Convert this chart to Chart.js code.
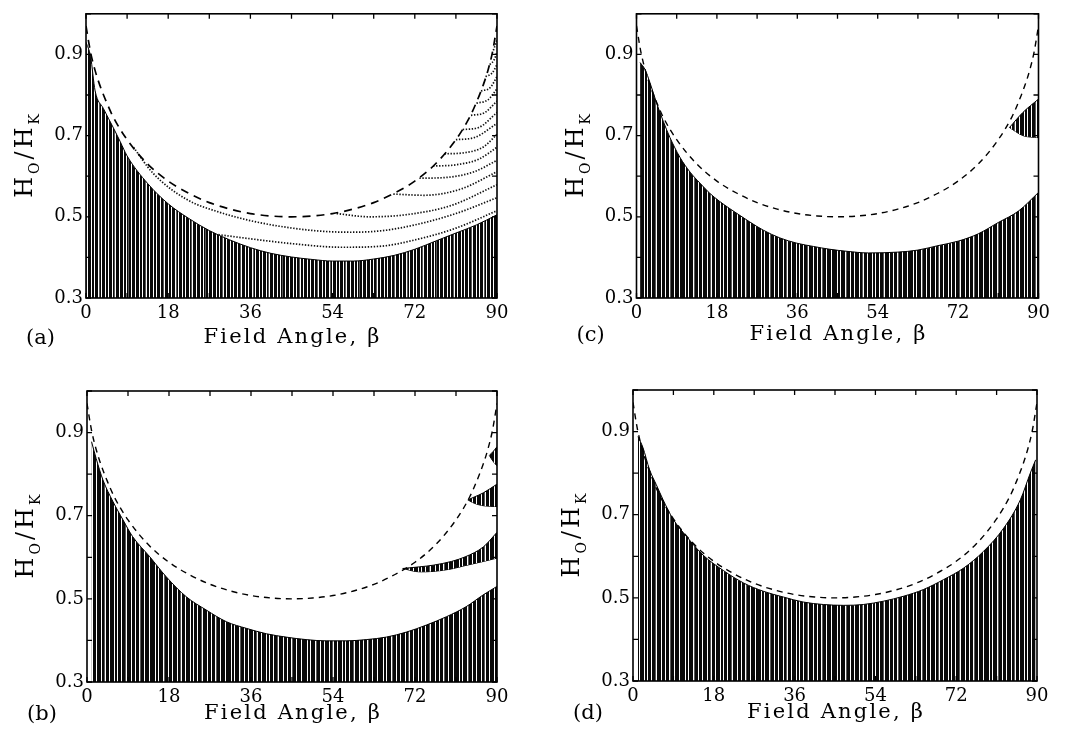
<!DOCTYPE html>
<html lang="en">
<head>
<meta charset="UTF-8">
<title>Switching field vs field angle</title>
<script src="https://cdn.jsdelivr.net/npm/chart.js"></script>
<style>
  body { margin: 0; background: #fff; width: 1069px; height: 743px; position: relative; overflow: hidden; }
  .panel { position: absolute; }
</style>
</head>
<body>
<div class="panel" style="left:0;top:0"><canvas id="panelA" width="530" height="370"></canvas></div>
<div class="panel" style="left:530px;top:0"><canvas id="panelC" width="539" height="370"></canvas></div>
<div class="panel" style="left:0;top:370px"><canvas id="panelB" width="530" height="373"></canvas></div>
<div class="panel" style="left:530px;top:370px"><canvas id="panelD" width="539" height="373"></canvas></div>
<script>
// dashed boundary, same in all four panels
const dashX = [0, 1, 2, 3, 4.5, 6, 9, 13.5, 18, 22.5, 27, 31.5, 36, 40.5, 45, 49.5, 54, 58.5, 63, 67.5, 72, 76.5, 81, 84, 85.5, 87, 88, 89, 90];
const dashY = [0.97, 0.905, 0.86, 0.825, 0.782, 0.745, 0.69, 0.63, 0.588, 0.558, 0.535, 0.519, 0.508, 0.502, 0.5, 0.502, 0.508, 0.519, 0.535, 0.558, 0.588, 0.63, 0.69, 0.745, 0.782, 0.825, 0.86, 0.905, 0.97];

// x / y tick values that carry a label
const xTicks = [0, 18, 36, 54, 72, 90];
const yTicks = [0.3, 0.5, 0.7, 0.9];

// (a) hatched region and dotted branches
const aFillX = [0, 1, 2, 3.8, 6, 7.5, 9, 13.5, 18, 22.5, 27, 31.5, 36, 40.5, 45, 49.5, 54, 58.5, 63, 67.5, 72, 76.5, 81, 85.5, 90];
const aFillY = [0.93, 0.895, 0.81, 0.767, 0.719, 0.685, 0.65, 0.582, 0.532, 0.496, 0.466, 0.443, 0.424, 0.41, 0.401, 0.395, 0.391, 0.391, 0.396, 0.405, 0.42, 0.44, 0.46, 0.48, 0.505];
const aLongX = [10.4, 14.7, 22, 29.3, 36.6, 44, 51, 58, 65, 72, 81, 90];
const aLongY = [0.671, 0.607, 0.543, 0.511, 0.489, 0.474, 0.465, 0.462, 0.466, 0.48, 0.508, 0.547];
const aLowX = [29, 36.6, 45, 56, 65, 72, 81, 90];
const aLowY = [0.456, 0.445, 0.434, 0.425, 0.428, 0.443, 0.472, 0.515];
const aBranchX = [
  [54.9, 62, 70, 80, 90], [67.3, 74, 82, 90], [73, 79, 85, 90], [76, 81, 86, 90],
  [78.5, 83, 87, 90], [81, 85, 90], [82.5, 86, 90], [84.3, 87.2, 90],
  [85.5, 88, 90], [86.5, 88.5, 90], [87.5, 89, 90], [88.4, 89.3, 90], [89.2, 90]
];
const aBranchY = [
  [0.508, 0.5, 0.505, 0.528, 0.579], [0.556, 0.553, 0.568, 0.611], [0.595, 0.597, 0.611, 0.639], [0.625, 0.628, 0.642, 0.671],
  [0.655, 0.658, 0.672, 0.703], [0.69, 0.695, 0.73], [0.715, 0.72, 0.757], [0.75, 0.756, 0.785],
  [0.78, 0.788, 0.815], [0.81, 0.818, 0.845], [0.845, 0.855, 0.875], [0.875, 0.885, 0.905], [0.91, 0.935]
];

// (b) hatched region and wedges
const bFillX = [1, 2, 3.5, 5.7, 7.9, 10, 13.8, 17.4, 21.8, 26.2, 30.6, 35, 39.4, 43.7, 48.1, 52.5, 56.9, 61.3, 65.7, 70.1, 74.5, 78.9, 83.2, 86.9, 90];
const bFillY = [0.878, 0.838, 0.786, 0.734, 0.69, 0.65, 0.601, 0.553, 0.505, 0.473, 0.445, 0.429, 0.416, 0.408, 0.402, 0.399, 0.399, 0.402, 0.408, 0.42, 0.437, 0.457, 0.481, 0.509, 0.53];
const bWedgeX = [[69.3, 73, 76, 80, 83, 87, 90], [83.6, 85, 87, 90], [88.3, 89.2, 90]];
const bWedgeTop = [[0.573, 0.577, 0.581, 0.59, 0.601, 0.625, 0.66], [0.738, 0.745, 0.755, 0.776], [0.845, 0.855, 0.866]];
const bWedgeBot = [[0.573, 0.565, 0.566, 0.572, 0.58, 0.59, 0.598], [0.738, 0.73, 0.724, 0.722], [0.845, 0.83, 0.82]];

// (c) hatched region and wedge
const cFillX = [0.8, 1.9, 3, 4.5, 6, 7.5, 9.7, 12, 14.2, 16.4, 18.6, 20.9, 23.2, 25.4, 28.4, 32.1, 35.9, 39.6, 43.3, 47.1, 51.9, 58.5, 63, 67.5, 72, 76.5, 81, 85.5, 90];
const cFillY = [0.88, 0.863, 0.831, 0.78, 0.735, 0.695, 0.647, 0.61, 0.583, 0.558, 0.538, 0.52, 0.503, 0.487, 0.467, 0.448, 0.435, 0.427, 0.42, 0.415, 0.411, 0.413, 0.418, 0.429, 0.44, 0.458, 0.486, 0.514, 0.56];
const cWedgeX = [[83.5, 86.5, 90]];
const cWedgeTop = [[0.72, 0.757, 0.79]];
const cWedgeBot = [[0.72, 0.7, 0.695]];

// (d) hatched region
const dFillX = [1.1, 2.2, 3.7, 5.2, 6.7, 8.9, 11.9, 15.6, 20.1, 24.6, 29, 33.5, 37.9, 42.4, 46.9, 51.3, 55.8, 60.3, 64.7, 69.2, 73.7, 78.1, 82.6, 86.3, 88.5, 89.7];
const dFillY = [0.888, 0.862, 0.808, 0.772, 0.736, 0.69, 0.648, 0.603, 0.566, 0.536, 0.516, 0.502, 0.49, 0.484, 0.482, 0.484, 0.492, 0.504, 0.52, 0.544, 0.572, 0.612, 0.668, 0.736, 0.80, 0.832];

// vertical hatching used for the filled regions
function makeHatch(code) {
  const c = document.createElement('canvas');
  c.width = code.length; c.height = 4;
  const g = c.getContext('2d');
  for (let i = 0; i < code.length; i++) {
    g.fillStyle = code[i] === '1' ? '#080808' : code[i] === '2' ? '#5a5a5a' : '#fff';
    g.fillRect(i, 0, 1, 4);
  }
  return g.createPattern(c, 'repeat');
}
const hatchLight = makeHatch('11011101120111011011102101110110111012011101110110121101110111011011201101110');
const hatchDark = makeHatch('1110110111102111011101111011201110111101101110111201111011101110211101111011');

const pts = (xs, ys) => xs.map((x, i) => ({ x, y: ys[i] }));

function dashedSet(bold) {
  return { data: pts(dashX, dashY), borderColor: '#000', borderWidth: bold ? 1.7 : 1.4,
    borderDash: bold ? [8, 6] : [6, 5], pointRadius: 0, fill: false, cubicInterpolationMode: 'monotone' };
}
function dottedSet(xs, ys) {
  return { data: pts(xs, ys), borderColor: '#111', borderWidth: 1.7, borderDash: [1.4, 1.6],
    pointRadius: 0, fill: false, cubicInterpolationMode: 'monotone' };
}
function fillSet(xs, ys, hatch) {
  return { data: pts(xs, ys), borderColor: '#000', borderWidth: 1, backgroundColor: hatch,
    pointRadius: 0, fill: 'start', cubicInterpolationMode: 'monotone' };
}
function wedgeSets(xs, top, bot) {
  const out = [];
  xs.forEach((x, i) => {
    out.push({ data: pts(x, top[i]), borderColor: '#000', borderWidth: 1, backgroundColor: hatchDark,
      pointRadius: 0, fill: '+1', cubicInterpolationMode: 'monotone' });
    out.push({ data: pts(x, bot[i]), borderColor: '#000', borderWidth: 1,
      pointRadius: 0, fill: false, cubicInterpolationMode: 'monotone' });
  });
  return out;
}

// frame, inward ticks on all sides, panel letter, x title and the y title with subscripts
const framePlugin = {
  id: 'frame',
  afterDraw(chart, args, opts) {
    const { ctx, chartArea: a } = chart;
    const xs = chart.scales.x, ys = chart.scales.y;
    ctx.save();
    ctx.strokeStyle = '#000';
    ctx.lineWidth = 1.6;
    ctx.strokeRect(a.left, a.top, a.right - a.left, a.bottom - a.top);
    ctx.lineWidth = 1.3;
    ctx.beginPath();
    xs.ticks.forEach(t => {
      const px = xs.getPixelForValue(t.value);
      ctx.moveTo(px, a.bottom); ctx.lineTo(px, a.bottom - 5);
      ctx.moveTo(px, a.top); ctx.lineTo(px, a.top + 5);
    });
    ys.ticks.forEach(t => {
      const py = ys.getPixelForValue(t.value);
      ctx.moveTo(a.left, py); ctx.lineTo(a.left + 5, py);
      ctx.moveTo(a.right, py); ctx.lineTo(a.right - 5, py);
    });
    ctx.stroke();

    ctx.fillStyle = '#000';
    ctx.textBaseline = 'middle';
    ctx.font = '21px "DejaVu Serif"';
    ctx.textAlign = 'left';
    ctx.fillText(opts.label, a.left - 60, a.bottom + opts.gap + 1);

    ctx.font = '21px "DejaVu Serif"';
    ctx.letterSpacing = '2.2px';
    ctx.textAlign = 'center';
    ctx.fillText(opts.xTitle, (a.left + a.right) / 2 + 1, a.bottom + opts.gap);
    ctx.letterSpacing = '0px';

    ctx.translate(a.left - 54, (a.top + a.bottom) / 2);
    ctx.rotate(-Math.PI / 2);
    const big = '24px "DejaVu Serif"', small = '14px "DejaVu Serif"';
    const parts = [['H', big, 0], ['O', small, 7], ['/', big, 0], ['H', big, 0], ['K', small, 7]];
    let total = 0;
    parts.forEach(p => { ctx.font = p[1]; p.push(ctx.measureText(p[0]).width); total += p[3]; });
    total += 3 * (parts.length - 1);
    let cx = -total / 2;
    ctx.textAlign = 'left';
    ctx.textBaseline = 'alphabetic';
    parts.forEach(p => { ctx.font = p[1]; ctx.fillText(p[0], cx, p[2]); cx += p[3] + 3; });
    ctx.restore();
  }
};

const tickFont = { family: 'DejaVu Serif', size: 18 };

function panel(id, geo, label, datasets) {
  const canvas = document.getElementById(id);
  const xH = geo.gap + 13;
  new Chart(canvas, {
    type: 'line',
    data: { datasets },
    plugins: [framePlugin],
    options: {
      responsive: false,
      animation: false,
      layout: { padding: { left: 0, top: geo.top, right: canvas.width - geo.right, bottom: canvas.height - geo.bottom - xH } },
      plugins: { legend: { display: false }, tooltip: { enabled: false },
        frame: { label, gap: geo.gap, xTitle: 'Field Angle, β' } },
      scales: {
        x: {
          type: 'linear', min: 0, max: 90,
          grid: { display: false, drawTicks: false, tickLength: 0 }, border: { display: false },
          ticks: { stepSize: 9, autoSkip: false, maxRotation: 0, padding: 5, color: '#000', font: tickFont,
            callback: v => xTicks.includes(v) ? String(v) : '' },
          afterFit: s => { s.height = xH; }
        },
        y: {
          min: 0.3, max: 1.0,
          grid: { display: false, drawTicks: false, tickLength: 0 }, border: { display: false },
          ticks: { stepSize: 0.1, autoSkip: false, padding: 3, color: '#000', font: tickFont,
            callback: v => { const r = Math.round(v * 10) / 10; return yTicks.includes(r) ? r.toFixed(1) : ''; } },
          afterFit: s => { s.width = geo.left; }
        }
      }
    }
  });
}

panel('panelA', { left: 86, right: 497, top: 6, bottom: 298, gap: 40 }, '(a)', [
  dashedSet(true),
  dottedSet(aLongX, aLongY),
  dottedSet(aLowX, aLowY),
  ...aBranchX.map((xs, i) => dottedSet(xs, aBranchY[i])),
  fillSet(aFillX, aFillY, hatchLight)
]);

panel('panelC', { left: 106.5, right: 508.5, top: 6, bottom: 298, gap: 37 }, '(c)', [
  dashedSet(false),
  ...wedgeSets(cWedgeX, cWedgeTop, cWedgeBot),
  fillSet(cFillX, cFillY, hatchDark)
]);

panel('panelB', { left: 87, right: 497, top: 21, bottom: 312, gap: 32 }, '(b)', [
  dashedSet(false),
  ...wedgeSets(bWedgeX, bWedgeTop, bWedgeBot),
  fillSet(bFillX, bFillY, hatchDark)
]);

panel('panelD', { left: 103, right: 507, top: 20, bottom: 311, gap: 32 }, '(d)', [
  dashedSet(false),
  fillSet(dFillX, dFillY, hatchDark)
]);
</script>
</body>
</html>
